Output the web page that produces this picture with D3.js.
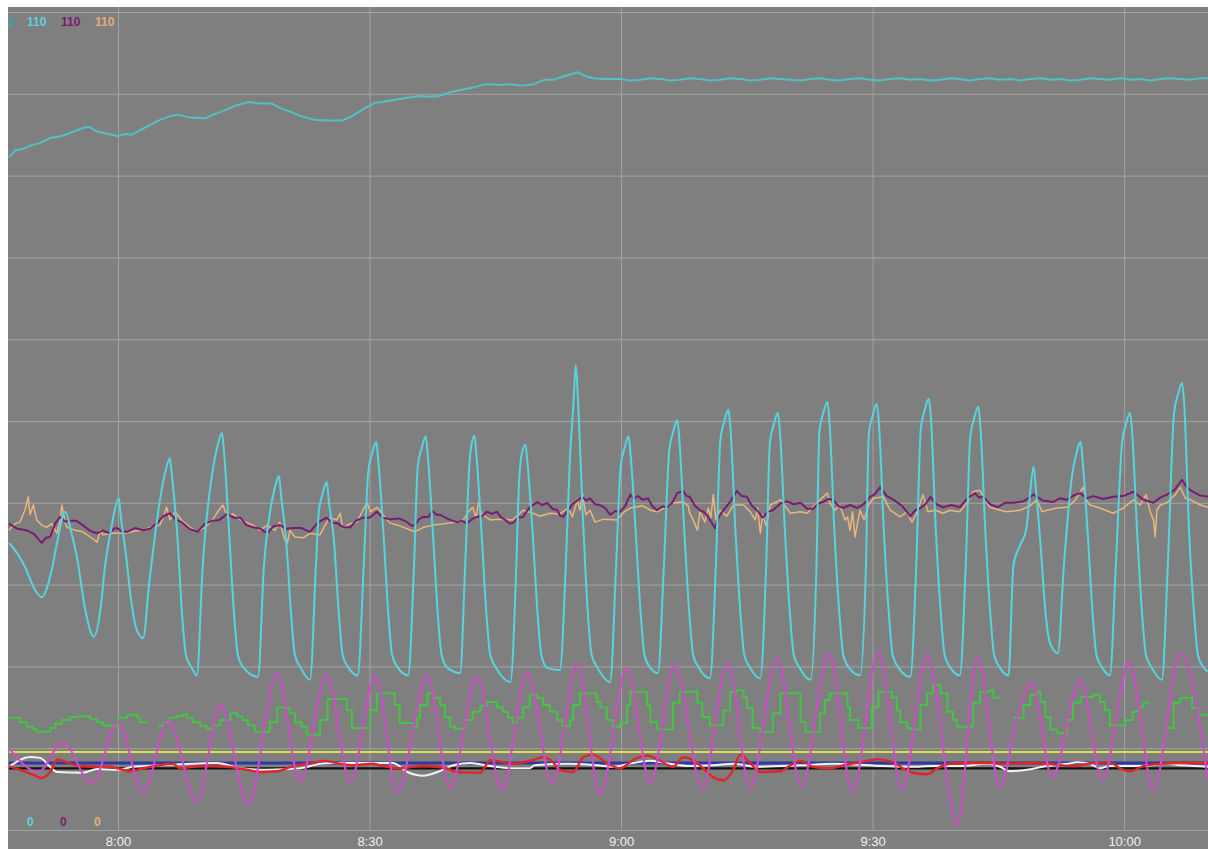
<!DOCTYPE html>
<html>
<head>
<meta charset="utf-8">
<script src="https://cdn.jsdelivr.net/npm/d3@7"></script>
<style>
  body { margin: 0; background: #fff; }
  svg { display: block; font-family: "Liberation Sans", Arial, sans-serif; }
</style>
</head>
<body>
<div id="chart"></div>
<script>
// t = minutes after 8:00, v = value on the 0..110 scale

const topTrend = [
  [-13.0,90.5],[-12.2,91.4],[-11.3,91.6],[-10.5,92.0],[-9.3,92.4],[-8.0,93.1],[-7.2,93.2],[-6.3,93.5],
  [-5.1,94.0],[-3.9,94.5],[-3.3,94.5],[-2.7,94.0],[-1.6,93.7],[-0.7,93.5],[0,93.3],[0.8,93.6],[1.7,93.5],
  [2.6,94.1],[3.8,94.8],[5.0,95.5],[6.2,96.0],[7.2,96.2],[8.6,95.8],[10.3,95.7],[11.6,96.3],[12.8,96.8],
  [14.0,97.4],[15.6,97.9],[16.9,97.7],[18.3,97.7],[19.3,97.1],[20.5,96.6],[22.1,95.9],[23.4,95.5],
  [25.0,95.4],[26.7,95.4],[27.9,96.0],[29.5,97.1],[30.7,97.8],[31.5,97.9],[33.0,98.2],[34.7,98.5],
  [36.0,98.7],[37.2,98.6],[38.3,98.7],[39.6,99.2],[40.9,99.5],[42.2,99.8],[43.9,100.3],[45.6,100.2],
  [46.8,100.3],[48.2,100.1],[49.6,100.3],[50.9,100.9],[52.0,100.9],[53.3,101.4],[54.8,101.9],[55.7,101.4],
  [56.7,101.1],[58.1,101.0],[59.9,101.0],[61.1,100.8],[62.3,100.9],[63.5,101.1],[64.7,101.0],[65.9,100.8],
  [67.0,100.9],[68.2,101.1],[69.4,101.0],[70.6,100.8],[71.8,100.9],[73.0,101.1],[74.2,101.0],[75.4,100.8],
  [76.6,100.9],[77.8,101.1],[79.0,101.0],[80.2,100.9],[81.4,100.8],[82.6,101.0],[83.7,101.1],[84.9,100.9],
  [86.1,100.8],[87.3,101.0],[88.5,101.1],[89.7,100.9],[90.9,100.8],[92.1,101.0],[93.3,101.1],[94.5,100.9],
  [95.7,101.0],[96.9,100.8],[98.1,100.9],[99.3,101.1],[100.4,101.0],[101.6,100.8],[102.8,101.0],[104.0,101.1],
  [105.2,100.9],[106.4,101.0],[107.6,100.8],[108.8,101.0],[110.0,101.1],[111.2,100.9],[112.4,101.0],
  [113.6,100.8],[114.8,100.9],[116.0,101.1],[117.1,101.0],[118.3,100.9],[119.5,101.1],[120.7,100.9],
  [121.9,101.0],[123.1,100.8],[124.3,101.0],[125.5,101.1],[126.7,101.0],[127.9,100.9],[129.1,101.1],[130.0,101.1]
];

const cyanWave = [
  [-13.0,38.6],[-11.9,37.0],[-11.1,35.4],[-9.9,32.3],[-9.1,31.3],[-7.9,35.0],[-7.2,39.0],[-6.3,42.8],
  [-5.5,39.7],[-4.9,36.7],[-3.9,29.6],[-2.9,26.0],[-2.0,30.5],[-1.6,35.0],[-0.8,40.6],[-0.4,43.0],[0.1,44.6],
  [0.35,42.0],[0.95,37.0],[1.55,31.0],[2.2,27.0],[3.0,25.8],
  [3.7,33.0],[5.25,46.0],[5.7,48.4],[6.2,50.0],
  [6.45,47.4],[7.05,40.0],[7.65,28.9],[8.1,23.5],[8.8,21.8],[9.4,20.8],
  [10.1,35.4],[11.45,49.4],[11.9,51.8],[12.4,53.4],
  [12.65,50.8],[13.25,40.0],[13.85,28.9],[14.3,23.5],[15.0,21.8],[16.7,20.6],
  [17.4,35.4],[18.25,43.6],[18.7,46.0],[19.2,47.6],
  [19.45,45.0],[20.05,39.0],[20.65,28.9],[21.1,23.5],[21.8,21.8],[22.9,20.2],
  [23.6,35.4],[23.95,42.8],[24.4,45.2],[24.9,46.8],
  [25.15,44.2],[25.75,39.0],[26.35,28.9],[26.8,23.5],[27.5,21.8],[28.6,20.8],
  [29.3,35.4],[29.85,48.2],[30.3,50.6],[30.8,52.2],
  [31.05,49.6],[31.65,40.0],[32.25,28.9],[32.7,23.5],[33.4,21.8],[34.6,20.8],
  [35.3,35.4],[35.75,48.9],[36.2,51.3],[36.7,52.9],
  [36.95,50.3],[37.55,40.0],[38.15,28.9],[38.6,23.5],[39.3,21.8],[40.8,21.1],
  [41.4,35.4],[41.9,49.0],[42.1,51.4],[42.5,53.0],
  [42.75,50.4],[43.35,40.0],[43.95,28.9],[44.4,23.5],[45.1,21.8],[46.8,19.9],
  [47.5,35.4],[47.8,46.0],[48.1,50.2],[48.6,51.8],
  [48.85,49.2],[49.45,40.0],[50.05,28.9],[50.5,23.5],[51.2,21.8],[52.7,21.5],
  [53.4,35.4],[53.9,50.0],[54.3,57.0],[54.6,62.5],
  [54.85,58.0],[55.45,42.0],[56.05,28.9],[56.5,23.5],[57.2,21.8],[58.7,19.9],
  [59.4,35.4],[59.95,48.9],[60.4,51.3],[60.9,52.9],
  [61.15,50.3],[61.75,40.0],[62.35,28.9],[62.8,23.5],[63.5,21.8],[64.4,21.1],
  [65.1,35.4],[65.75,51.1],[66.2,53.5],[66.7,55.1],
  [66.95,52.5],[67.55,40.0],[68.15,28.9],[68.6,23.5],[69.3,21.8],[70.6,20.4],
  [71.3,35.4],[71.85,52.5],[72.3,54.9],[72.8,56.5],
  [73.05,53.9],[73.65,40.0],[74.25,28.9],[74.7,23.5],[75.4,21.8],[76.6,20.4],
  [77.3,35.4],[77.75,52.1],[78.2,54.5],[78.7,56.1],
  [78.95,53.5],[79.55,40.0],[80.15,28.9],[80.6,23.5],[81.3,21.8],[82.6,20.2],
  [83.3,35.4],[83.65,53.6],[84.1,56.0],[84.6,57.6],
  [84.85,55.0],[85.45,40.0],[86.05,28.9],[86.5,23.5],[87.2,21.8],[88.5,20.8],
  [89.2,35.4],[89.55,53.3],[90.0,55.7],[90.5,57.3],
  [90.75,54.7],[91.35,40.0],[91.95,28.9],[92.4,23.5],[93.1,21.8],[94.5,20.6],
  [95.2,35.4],[95.75,54.0],[96.2,56.4],[96.7,58.0],
  [96.95,55.4],[97.55,40.0],[98.15,28.9],[98.6,23.5],[99.3,21.8],[100.4,20.8],
  [101.1,35.4],[101.65,52.9],[102.1,55.3],[102.6,56.9],
  [102.85,54.3],[103.45,40.0],[104.05,28.9],[104.5,23.5],[105.2,21.8],[106.2,20.8],
  [106.8,35.6],[107.6,38.3],[108.3,40.3],[108.7,44.4],[109.2,48.8],
  [109.45,46.2],[110.05,38.0],[110.65,28.9],[111.2,25.0],[112.1,23.8],
  [112.8,35.4],[113.85,48.2],[114.3,50.6],[114.8,52.2],
  [115.05,49.6],[115.65,40.0],[116.25,28.9],[116.7,23.5],[117.4,21.8],[118.3,20.8],
  [119.0,35.4],[119.75,52.1],[120.2,54.5],[120.7,56.1],
  [120.95,53.5],[121.55,40.0],[122.15,28.9],[122.6,23.5],[123.3,21.8],[124.5,20.2],
  [125.2,35.4],[125.95,56.1],[126.4,58.5],[126.9,60.1],
  [127.15,57.5],[127.75,40.0],[128.35,28.9],[128.8,23.5],[129.5,21.8],[130.0,21.3]
];

const purpleTrace = [
  [-13.0,41.2],[-12.0,40.5],[-10.9,40.3],[-10.0,39.8],[-9.1,38.6],[-8.6,39.3],[-8.1,39.4],[-7.5,41.2],
  [-6.9,42.1],[-6.3,41.5],[-5.7,41.6],[-5.0,41.6],[-4.2,41.0],[-3.3,40.2],[-2.5,39.9],[-1.8,40.3],
  [-1.0,39.9],[-0.5,40.5],[-0.1,40.6],[0.5,40.1],[1.1,40.1],[2.0,40.6],[3.0,40.3],[3.8,40.5],[4.7,41.3],
  [5.4,42.2],[6.2,42.6],[6.9,41.7],[7.6,41.4],[8.5,40.5],[9.5,40.1],[10.4,41.2],[11.3,41.6],[12.1,41.7],
  [13.0,42.5],[13.8,42.0],[14.6,42.0],[15.3,41.0],[16.1,40.7],[17.0,40.5],[17.8,39.9],[18.5,40.8],
  [19.3,41.0],[20.1,40.5],[20.9,40.6],[21.9,40.6],[22.9,40.1],[23.9,41.4],[24.9,42.0],[25.5,41.3],
  [26.1,41.3],[26.9,40.7],[27.7,40.7],[28.4,41.6],[29.2,42.0],[30.0,42.0],[30.9,42.8],[31.6,42.0],
  [32.4,41.8],[33.5,41.9],[34.5,41.4],[35.0,40.9],[35.4,41.0],[35.9,41.8],[36.4,42.1],[37.0,42.1],
  [37.5,42.9],[38.0,42.4],[38.4,42.4],[39.4,41.8],[40.4,41.4],[41.0,41.6],[41.6,41.2],[42.2,41.8],
  [42.8,42.1],[43.4,42.2],[44.0,42.8],[44.6,42.5],[45.2,42.8],[45.7,42.0],[46.2,41.7],[46.7,41.2],
  [47.1,41.3],[47.7,42.0],[48.3,42.1],[49.1,43.4],[50.0,44.1],[50.6,43.7],[51.2,44.0],[51.8,43.2],
  [52.4,43.0],[52.7,42.3],[53.1,42.1],[54.2,43.8],[55.4,44.8],[55.8,44.3],[56.3,44.6],[56.9,43.8],
  [57.5,43.7],[58.1,43.3],[58.7,42.4],[59.3,42.9],[59.9,42.8],[60.5,43.6],[61.1,45.1],[61.5,44.6],
  [62.0,44.9],[62.6,44.4],[63.2,44.6],[63.7,43.6],[64.3,43.0],[64.9,43.5],[65.5,43.4],[66.1,44.0],
  [66.7,45.3],[67.4,45.6],[67.8,44.9],[68.2,44.8],[68.8,43.6],[69.4,43.0],[70.0,42.7],[70.6,41.7],
  [71.2,40.6],[71.7,42.2],[72.2,43.0],[73.0,44.1],[73.8,45.6],[74.4,44.9],[75.0,44.8],[75.6,43.6],
  [76.2,43.0],[76.9,42.0],[77.5,42.8],[78.1,43.0],[79.0,43.9],[79.8,44.2],[80.6,43.8],[81.4,44.0],
  [82.2,43.2],[82.9,43.2],[83.5,43.9],[84.1,44.1],[84.7,44.5],[85.3,44.4],[85.9,43.6],[86.5,43.3],
  [87.3,43.7],[88.2,43.3],[89.0,43.9],[89.7,44.8],[90.3,45.2],[90.9,46.1],[91.7,44.9],[92.5,44.4],
  [93.5,43.6],[94.5,42.2],[95.1,43.0],[95.7,43.3],[96.3,43.8],[96.9,44.8],[97.6,43.8],[98.4,43.4],
  [99.4,43.7],[100.4,43.4],[101.3,44.6],[102.2,45.3],[102.7,44.7],[103.2,44.8],[104.0,43.8],[104.9,43.4],
  [105.8,44.0],[106.8,44.0],[108.0,44.2],[109.2,45.1],[110.3,44.3],[111.5,44.1],[112.3,44.6],[113.2,44.4],
  [114.0,45.0],[114.8,45.3],[115.5,44.6],[116.3,44.9],[117.5,44.5],[118.7,44.8],[119.9,44.9],[121.1,45.5],
  [122.3,44.4],[123.5,44.0],[124.3,44.7],[125.1,45.1],[126.0,45.7],[126.9,47.1],[127.4,46.2],[127.9,45.7],
  [129.0,45.0],[130.0,44.8]
];

const tanTrace = [
  [-13.0,40.3],[-12.3,41.2],[-11.7,41.4],[-11.1,43.0],[-10.7,44.8],[-10.5,42.4],[-10.1,43.7],[-9.7,41.7],
  [-9.1,41.0],[-8.5,40.7],[-7.9,41.2],[-7.3,39.9],[-6.9,41.7],[-6.7,43.7],[-6.3,41.4],[-6.1,40.7],
  [-5.1,40.3],[-4.2,40.1],[-3.3,39.4],[-2.5,38.7],[-2.1,40.3],[-1.8,39.7],[-0.6,39.9],[0.8,39.9],
  [2.0,40.2],[3.0,40.3],[3.8,40.7],[5.0,41.0],[5.5,42.4],[5.8,43.4],[6.2,41.7],[6.8,42.8],[7.8,41.4],
  [8.6,40.7],[9.4,40.1],[10.4,40.7],[11.3,41.7],[11.9,42.8],[12.5,43.7],[13.1,42.0],[13.7,42.5],
  [14.6,41.7],[16.1,41.0],[16.9,40.3],[17.8,41.0],[18.7,40.3],[19.3,41.4],[19.9,39.0],[20.2,38.6],
  [20.5,40.3],[21.1,39.4],[22.1,39.3],[22.9,39.9],[24.1,39.7],[24.7,41.0],[25.3,42.0],[26.1,41.7],
  [26.5,42.6],[26.8,40.6],[27.7,41.2],[28.5,41.4],[29.2,43.0],[29.7,44.0],[30.1,42.8],[30.9,43.4],
  [31.6,42.4],[32.4,41.3],[33.6,40.9],[35.4,40.1],[36.4,40.7],[37.6,41.0],[39.0,41.2],[40.2,41.4],
  [41.2,41.7],[41.8,42.8],[42.3,43.4],[42.7,42.0],[43.0,44.1],[43.4,42.4],[44.4,41.7],[45.6,41.8],
  [47.1,41.7],[48.3,43.0],[49.5,42.6],[50.3,42.2],[51.5,42.6],[52.7,42.5],[53.7,43.3],[54.2,42.1],
  [54.8,44.4],[55.1,43.0],[55.4,45.3],[55.8,42.4],[56.3,43.0],[56.9,41.4],[57.9,41.8],[59.5,41.7],
  [60.4,42.8],[61.1,43.3],[62.6,43.6],[63.5,43.0],[64.3,42.8],[65.3,43.4],[66.2,44.0],[67.4,44.1],
  [68.0,43.6],[68.2,42.6],[68.6,41.7],[69.1,40.3],[69.4,42.8],[70.0,41.4],[70.4,43.3],[70.7,42.0],
  [71.0,45.1],[71.3,41.7],[71.8,43.0],[72.6,42.2],[73.4,43.7],[74.6,43.7],[75.4,42.8],[76.0,41.7],
  [76.3,43.3],[76.6,39.9],[76.9,42.4],[77.3,40.9],[77.8,43.7],[79.0,44.4],[80.2,42.6],[81.4,42.8],
  [82.2,42.6],[83.1,43.7],[84.1,44.8],[84.6,45.3],[84.9,44.0],[85.5,43.0],[86.1,43.7],[86.7,41.7],
  [87.0,42.1],[87.3,40.3],[87.6,42.8],[87.9,39.4],[88.2,41.3],[88.5,43.0],[89.0,41.7],[89.5,43.7],
  [90.1,44.6],[91.3,44.8],[92.1,43.0],[93.3,42.1],[94.1,42.8],[94.7,41.4],[95.4,43.0],[96.0,45.1],
  [96.6,42.8],[97.5,43.0],[98.4,42.6],[99.2,43.0],[100.4,42.8],[101.3,44.1],[102.0,45.5],[102.8,45.7],
  [103.4,44.4],[104.0,43.4],[105.2,43.0],[106.0,42.8],[107.6,43.0],[108.8,43.6],[109.6,44.4],[110.2,42.8],
  [110.8,43.0],[112.0,43.3],[113.2,43.4],[114.2,44.4],[114.8,45.5],[115.1,46.1],[115.5,44.4],[115.9,43.7],
  [117.1,43.3],[118.7,42.6],[119.9,43.3],[121.1,44.4],[121.9,43.7],[122.6,45.1],[123.1,42.8],[123.5,41.7],
  [123.7,39.4],[123.9,43.0],[124.3,43.7],[125.1,44.0],[126.1,45.1],[126.7,46.1],[127.3,44.6],[127.9,44.4],
  [129.1,43.7],[130.0,43.4]
];

const magentaWave = [
  [-13.0,11.0],[-9.5,7.8],[-6.6,11.8],[-3.1,6.2],[0,14.5],[3.0,5.0],[6.0,14.8],[9.4,3.8],[12.2,16.8],
  [15.5,3.4],[19.0,21.1],[21.7,6.5],[24.9,20.8],[27.7,6.5],[30.7,20.8],[33.3,5.1],[36.9,20.8],[39.6,5.6],
  [42.8,20.6],[45.8,5.4],[48.8,21.2],[51.8,6.3],[54.8,22.3],[57.5,4.8],[60.7,21.8],[63.5,6.3],[66.4,22.2],
  [69.7,5.6],[72.7,22.5],[75.4,5.6],[78.6,23.1],[81.5,5.8],[84.8,23.7],[87.6,5.1],[90.7,23.9],[93.5,5.4],
  [96.5,23.5],[100.1,0.7],[102.5,23.3],[105.2,5.8],[107.2,14.8],[109.0,19.9],[111.4,7.1],[114.8,20.2],
  [117.4,6.7],[120.6,22.6],[123.5,5.4],[126.7,23.8],[130.0,6.7]
];

// green is a stepped trace with gaps (null = no data)
const greenSteps = [
  [-13.0,15.1],[-11.7,14.5],[-10.9,13.9],[-10.1,13.5],[-9.7,13.2],[-8.1,13.7],[-7.5,14.3],[-6.7,14.8],
  [-5.7,15.2],[-4.9,15.3],[-3.3,14.9],[-2.5,14.5],[-1.8,14.1],[-1.0,14.0],[0,15.1],[1.1,15.5],[2.3,15.1],
  [2.6,14.5],[3.5,14.5],[4.1,null],
  [4.8,14.0],[5.4,14.5],[6.2,15.1],[7.0,15.3],[7.8,15.6],[8.2,15.1],[8.9,14.5],[9.8,14.0],[10.6,13.6],
  [11.3,14.1],[12.2,14.8],[13.4,15.7],[14.2,15.3],[14.8,14.8],[15.5,14.1],[16.3,13.2],[18.1,14.5],
  [19.0,16.5],[19.7,16.4],[20.5,15.7],[21.1,14.5],[21.9,13.9],[22.5,12.8],[24.1,14.8],[25.0,17.6],
  [27.3,16.1],[27.9,13.7],[30.1,16.1],[30.9,18.4],[33.0,16.8],[33.6,14.4],[35.2,13.9],[35.7,15.1],
  [36.0,16.8],[36.9,18.4],[37.6,17.8],[38.4,16.8],[39.0,15.2],[39.6,13.9],[40.2,13.6],[41.4,14.8],
  [42.3,15.9],[43.2,16.7],[44.0,17.2],[45.2,16.5],[45.9,15.9],[46.5,15.1],[47.1,14.4],[47.6,15.1],
  [48.3,16.5],[49.1,18.2],[50.0,17.8],[50.7,16.8],[51.5,15.9],[52.4,14.8],[53.0,14.0],[53.9,14.8],
  [54.3,16.8],[55.1,18.4],[57.1,17.2],[57.5,16.5],[58.3,14.8],[59.0,13.9],[59.9,14.4],[60.7,16.8],
  [61.1,18.6],[63.1,16.8],[63.5,14.5],[64.3,13.5],[66.2,17.1],[67.0,18.6],[69.1,17.1],[69.7,15.2],
  [70.6,14.1],[72.2,16.1],[73.0,18.6],[73.8,18.8],[74.6,17.9],[75.0,16.4],[75.7,13.7],[76.6,13.2],
  [78.1,15.7],[79.0,18.4],[81.4,14.5],[82.0,13.2],[83.7,15.7],[84.3,17.5],[84.9,18.4],[87.0,16.5],
  [87.3,14.8],[88.3,13.7],[89.9,16.5],[90.7,18.6],[92.3,17.8],[92.9,16.1],[93.3,14.5],[94.1,13.7],
  [94.5,13.5],[95.7,16.8],[96.5,18.4],[97.2,19.5],[98.1,18.4],[98.9,15.9],[99.6,14.8],[100.1,13.9],
  [102.0,17.1],[102.8,18.6],[104.0,18.8],[104.4,17.8],[105.2,17.8],[105.8,null],
  [106.8,15.1],[108.0,16.8],[108.8,18.2],[109.6,18.6],[110.0,17.2],[110.6,15.2],[111.2,13.5],[112.0,13.0],
  [113.2,14.8],[113.9,17.1],[114.8,17.9],[116.3,18.2],[117.1,17.2],[117.7,16.1],[118.3,14.1],[120.1,14.8],
  [121.0,15.9],[121.7,16.5],[122.3,17.1],[123.1,17.1],[123.8,null],
  [124.7,13.7],[125.9,17.1],[126.7,17.8],[128.1,16.4],[128.8,15.5],[130.0,15.5]
];

const whiteTrace = [
  [-13.0,8.5],[-10.5,9.8],[-9.3,9.7],[-8.1,8.5],[-7.3,7.8],[-4.2,7.7],[-2.5,8.2],[0,8.1],[1.8,8.5],
  [5.0,8.7],[11.8,9.0],[14.6,8.3],[17.8,8.1],[21.7,8.3],[24.1,8.9],[25.6,9.0],[29.7,9.0],[32.8,9.0],
  [34.5,7.8],[36.4,7.3],[38.1,7.8],[40.0,8.7],[42.0,9.0],[44.4,8.6],[47.1,8.3],[49.1,8.3],[49.7,8.7],
  [53.6,8.9],[57.1,8.7],[59.0,8.5],[61.4,9.0],[63.5,9.3],[65.8,8.9],[68.2,8.6],[71.0,8.7],[73.4,8.9],
  [76.2,8.5],[79.0,8.6],[81.4,8.7],[85.3,8.9],[91.3,8.6],[94.5,8.5],[97.2,8.6],[100.4,8.6],[103.7,8.9],
  [105.2,8.5],[106.4,7.9],[108.4,8.1],[110.3,8.5],[113.2,8.9],[114.4,9.1],[115.9,8.9],[117.1,8.3],
  [118.3,8.6],[121.9,8.6],[125.1,8.9],[127.0,8.7],[130.0,8.5]
];

const redTrace = [
  [-13.0,8.6],[-11.7,8.1],[-10.1,7.4],[-9.1,7.0],[-8.1,7.8],[-7.2,9.5],[-6.1,9.1],[-4.5,8.6],[-2.5,8.5],
  [-1.0,8.5],[0.2,8.2],[1.4,7.9],[3.0,8.3],[5.0,8.7],[6.6,8.9],[7.4,8.3],[8.9,8.5],[10.6,8.6],[13.0,8.5],
  [15.4,8.1],[16.9,7.8],[19.0,7.9],[20.9,8.6],[23.3,9.0],[24.5,9.3],[26.1,9.0],[28.0,8.7],[30.4,8.9],
  [31.3,8.7],[33.6,8.3],[36.4,8.6],[39.2,8.3],[40.4,7.8],[43.2,7.7],[44.4,9.4],[47.1,8.9],[49.5,9.4],
  [50.7,9.8],[51.9,9.1],[52.7,8.1],[54.3,7.8],[55.5,9.8],[56.7,10.1],[58.3,9.0],[59.9,8.3],[61.4,9.4],
  [63.1,10.0],[64.7,9.3],[66.2,8.5],[67.4,9.8],[68.6,9.4],[69.8,8.3],[71.0,7.1],[72.2,6.7],[73.4,8.1],
  [74.2,10.1],[75.4,9.0],[76.6,7.8],[79.0,7.9],[80.2,8.7],[81.4,9.3],[82.9,8.5],[84.9,8.3],[86.5,8.7],
  [88.5,9.1],[90.5,9.5],[92.5,9.1],[93.6,8.3],[94.8,7.7],[96.5,7.5],[97.7,8.3],[99.2,8.9],[101.3,9.0],
  [103.7,9.0],[106.0,8.9],[108.4,9.0],[110.8,8.9],[113.9,8.6],[116.3,9.0],[118.3,9.1],[119.5,8.3],
  [120.7,7.9],[122.3,8.6],[124.3,8.9],[126.7,9.0],[130.0,9.0]
];

const yellowLevel = [[-13, 10.5], [130, 10.5]];
const blueLevel = [[-13, 9.0], [130, 9.0]];
const blackLevel = [[-13, 8.3], [130, 8.3]];

const maxLabels = ["2", "110", "110", "110"];
const minLabels = ["0", "0", "0"];

// ---- chart ----
const W = 1208, H = 849;
const plot = { left: 8, top: 7, right: 1208, bottom: 830 };

const base = new Date(2021, 0, 1, 8, 0, 0);
const toDate = t => new Date(base.getTime() + t * 60000);

const x = d3.scaleTime()
  .domain([toDate(-13), toDate(130)])
  .range([9, 1208]);

const y = d3.scaleLinear()
  .domain([0, 110])
  .range([830, 12]);

const svg = d3.select("#chart")
  .append("svg")
  .attr("width", W)
  .attr("height", H);

svg.append("defs").append("clipPath")
  .attr("id", "plotClip")
  .append("rect")
  .attr("x", plot.left)
  .attr("y", plot.top)
  .attr("width", plot.right - plot.left)
  .attr("height", plot.bottom - plot.top);

svg.append("rect")
  .attr("x", plot.left)
  .attr("y", plot.top)
  .attr("width", W - plot.left)
  .attr("height", H - plot.top)
  .attr("fill", "#7f7f7f");

// horizontal grid
const yGrid = svg.append("g")
  .attr("transform", `translate(${plot.left},0)`)
  .call(d3.axisLeft(y).tickValues(d3.range(0, 111, 11)).tickSize(-(plot.right - plot.left)).tickFormat(""));
yGrid.select(".domain").remove();
yGrid.selectAll("line").attr("stroke", "#a3a3a3").attr("stroke-width", 1);

// time axis + vertical grid
const xAxis = svg.append("g")
  .attr("transform", `translate(0,${plot.bottom})`)
  .call(d3.axisBottom(x)
    .ticks(d3.timeMinute.every(30))
    .tickFormat(d3.timeFormat("%-H:%M"))
    .tickSize(-(plot.bottom - plot.top))
    .tickPadding(7));
xAxis.select(".domain").remove();
xAxis.selectAll("line").attr("stroke", "#a3a3a3").attr("stroke-width", 1);
xAxis.selectAll("text")
  .attr("fill", "#f0f0f0")
  .attr("font-size", 13)
  .attr("font-family", "Liberation Sans, Arial, sans-serif");

const lines = svg.append("g").attr("clip-path", "url(#plotClip)");

function draw(data, color, width, curve) {
  const gen = d3.line()
    .defined(d => d[1] != null)
    .x(d => x(toDate(d[0])))
    .y(d => y(d[1]))
    .curve(curve || d3.curveLinear);
  lines.append("path")
    .datum(data)
    .attr("d", gen)
    .attr("fill", "none")
    .attr("stroke", color)
    .attr("stroke-width", width)
    .attr("stroke-linejoin", "round");
}

draw(yellowLevel, "#dede4a", 2);
draw(blackLevel, "#111111", 2.2);
draw(blueLevel, "#2b3aa6", 3);
draw(whiteTrace, "#f2f2f2", 2, d3.curveMonotoneX);
draw(redTrace, "#e02626", 2.4, d3.curveMonotoneX);
draw(greenSteps, "#44c544", 2, d3.curveStepAfter);
draw(magentaWave, "#cf4cc8", 2, d3.curveMonotoneX);
draw(tanTrace, "#e9b67c", 1.5);
draw(purpleTrace, "#7a1d72", 2);
draw(cyanWave, "#55d5de", 2, d3.curveMonotoneX);
draw(topTrend, "#4ec2c6", 2);

// scale end labels
const labels = svg.append("g")
  .attr("font-size", 12)
  .attr("font-weight", "bold");

const maxColors = ["#34a6a6", "#5ad3dc", "#7a1d72", "#e3ae78"];
const maxX = [8, 27, 61, 95];
labels.selectAll("text.max")
  .data(maxLabels)
  .enter()
  .append("text")
    .attr("class", "max")
    .attr("x", (d, i) => maxX[i])
    .attr("y", 26)
    .attr("fill", (d, i) => maxColors[i])
    .text(d => d);

const minColors = ["#5ad3dc", "#7a1d72", "#e3ae78"];
const minX = [27, 60, 94];
labels.selectAll("text.min")
  .data(minLabels)
  .enter()
  .append("text")
    .attr("class", "min")
    .attr("x", (d, i) => minX[i])
    .attr("y", 826)
    .attr("fill", (d, i) => minColors[i])
    .text(d => d);
</script>
</body>
</html>
